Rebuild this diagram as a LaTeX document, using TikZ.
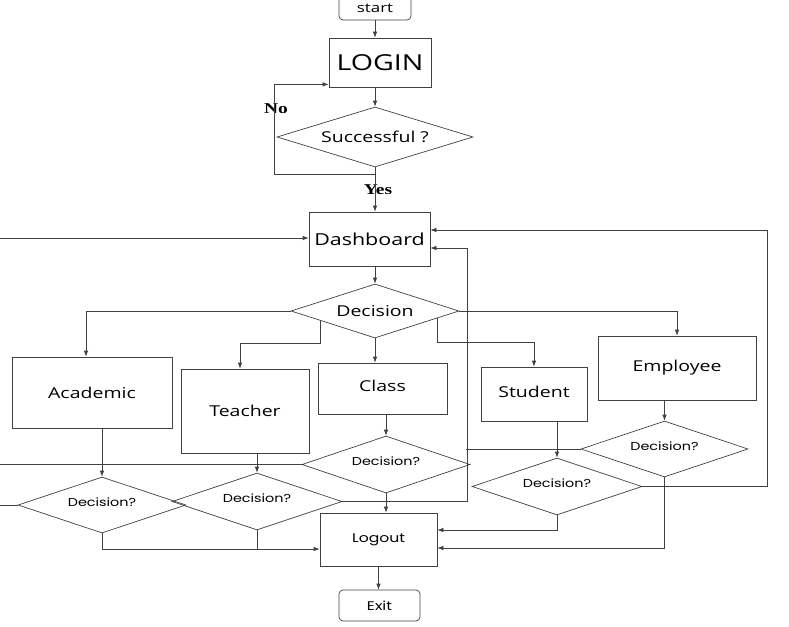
\documentclass[tikz,border=0pt]{standalone}
\usepackage{fontspec}
\setmainfont[FakeStretch=1.3]{Open Sans}
\newfontfamily\gothic[FakeStretch=1.25]{Poppins}
\newfontfamily\timesb[FakeStretch=1.3]{Liberation Serif}
\usetikzlibrary{shapes.geometric,arrows.meta,calc}

\tikzset{
  box/.style={draw, rectangle, inner sep=0pt, font=\fontsize{15}{18}\selectfont},
  choice/.style={draw, diamond, aspect=3, inner sep=0pt, text depth=6pt, font=\gothic\fontsize{11.5}{14}\selectfont},
  term/.style={draw, rounded corners=4pt, inner sep=0pt},
  arr/.style={-{Latex[length=6pt,width=4.5pt]}},
  yesno/.style={font=\timesb\bfseries\fontsize{15}{17}\selectfont}
}

\begin{document}
\begin{tikzpicture}[x=1pt,y=-1pt,line width=0.7pt,color=black!75,every node/.style={text=black}]
    \useasboundingbox (0,0) rectangle (789,626);

    \node[term,minimum width=72pt,minimum height=24pt,font=\fontsize{13}{15}\selectfont] (start) at (375,8) {start};
    \node[box,minimum width=102pt,minimum height=49pt,font=\fontsize{22}{26}\selectfont] (login) at (380,62.5) {LOGIN};
    \node[choice,minimum width=196pt,minimum height=60pt,text depth=0pt,font=\fontsize{15}{18}\selectfont] (succ) at (375,137) {Successful ?};
    \node[yesno] (no) at (276,109) {No};
    \node[yesno] (yes) at (378,190) {Yes};
    \node[box,minimum width=121pt,minimum height=54pt,font=\fontsize{16.5}{20}\selectfont] (dash) at (369.5,239) {Dashboard};
    \node[choice,minimum width=168pt,minimum height=54pt,text depth=0pt,font=\fontsize{15}{18}\selectfont] (dec) at (375,311) {Decision};

    \node[box,minimum width=160pt,minimum height=71pt] (acad) at (92,392.5) {Academic};
    \node[box,minimum width=128pt,minimum height=84pt] (teach) at (245,411) {Teacher};
    \node[box,minimum width=129pt,minimum height=51pt,text depth=6pt] (class) at (382.5,388.5) {Class};
    \node[box,minimum width=106pt,minimum height=54pt,text depth=5pt] (stud) at (534,394) {Student};
    \node[box,minimum width=158pt,minimum height=64pt,text depth=4pt] (emp) at (677,368) {Employee};

    \node[choice,minimum width=168pt,minimum height=56pt] (dA) at (102,505) {Decision?};
    \node[choice,minimum width=170pt,minimum height=57pt] (dT) at (257,501.5) {Decision?};
    \node[choice,minimum width=168pt,minimum height=57pt] (dC) at (386,464.5) {Decision?};
    \node[choice,minimum width=170pt,minimum height=57pt] (dS) at (557,486.5) {Decision?};
    \node[choice,minimum width=167pt,minimum height=56pt] (dE) at (664.5,449) {Decision?};

    \node[box,minimum width=117pt,minimum height=53pt,font=\gothic\fontsize{12.5}{15}\selectfont] (logout) at (378.5,539.5) {Logout};
    \node[term,minimum width=81pt,minimum height=31pt,font=\gothic\fontsize{12.5}{15}\selectfont] (exit) at (379.5,605.5) {Exit};

    \coordinate (nobend) at (274,174);
    \coordinate (leftend) at (0,238);
    \coordinate (din1) at ([yshift=9pt]dash.east);
    \coordinate (din2) at ([yshift=-9pt]dash.east);
    \coordinate (lin) at ([yshift=-9.5pt]logout.west);
    \coordinate (rin1) at ([yshift=9.5pt]logout.east);
    \coordinate (rin2) at ([yshift=-8.5pt]logout.east);

    \draw[arr] (start.south) -- (start.south |- login.north);
    \draw[arr] (succ.north |- login.south) -- (succ.north);
    \draw[arr] (succ.south) -- (succ.south |- dash.north);
    \draw[arr] (succ.south |- nobend) -- (nobend) |- ([yshift=3pt]login.south west);
    \draw[arr] (leftend) -- (leftend -| dash.west);
    \draw[arr] (dec.north |- dash.south) -- (dec.north);

    \draw[arr] (dec.west) -| ([xshift=-6pt]acad.north);
    \draw[arr] ($(dec.west)!.35!(dec.south)$) -- ++(0,23) -| ([xshift=-5pt]teach.north);
    \draw[arr] (dec.south) -- (dec.south |- class.north);
    \draw[arr] ($(dec.south)!.74!(dec.east)$) -- ++(0,24) -| (stud.north);
    \draw[arr] (dec.east) -| (emp.north);

    \draw[arr] (dA.north |- acad.south) -- (dA.north);
    \draw[arr] (dT.north |- teach.south) -- (dT.north);
    \draw[arr] (dC.north |- class.south) -- (dC.north);
    \draw[arr] (dS.north |- stud.south) -- (dS.north);
    \draw[arr] (dE.north |- emp.south) -- (dE.north);

    \draw (dA.west) -- (dA.west -| leftend);
    \draw (dC.west) -- (dC.west -| leftend);
    \draw[arr] (dT.east) -- ++(125,0) |- (din2);
    \draw (dE.west) -- ++(-114.5,0);
    \draw[arr] (dS.east) -- ++(125,0) |- (din1);

    \draw[arr] (dC.south) -- (dC.south |- logout.north);
    \draw[arr] (dA.south) |- (lin);
    \draw (dT.south) -- (dT.south |- lin);
    \draw[arr] (dS.south) |- (rin1);
    \draw[arr] (dE.south) |- (rin2);
    \draw[arr] (logout.south) -- (logout.south |- exit.north);
\end{tikzpicture}
\end{document}
